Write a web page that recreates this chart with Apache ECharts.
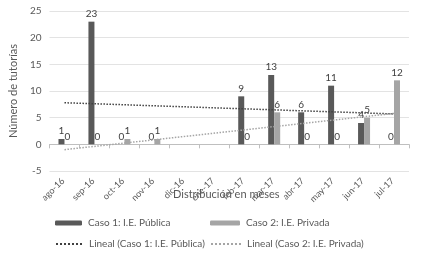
<!DOCTYPE html>
<html>
<head>
<meta charset="utf-8">
<script src="https://cdn.jsdelivr.net/npm/echarts@6/dist/echarts.min.js"></script>
<style>html,body{margin:0;padding:0;background:#fff;}#c{width:426px;height:258px;}</style>
</head>
<body>
<div id="c"></div>
<script>
const categories = ['ago-16','sep-16','oct-16','nov-16','dic-16','ene-17','feb-17','mar-17','abr-17','may-17','jun-17','jul-17'];
const publica = [1, 23, 0, 0, null, null, 9, 13, 6, 11, 4, 0];
const privada = [0, 0, 1, 1, null, null, 0, 6, 0, 0, 5, 12];
const trendPublica = [7.8, null, null, null, null, null, null, null, null, null, null, 5.7];
const trendPrivada = [-1.0, null, null, null, null, null, null, null, null, null, null, 5.8];
const yTicks = {min: -5, max: 25, interval: 5};
const names = ['Caso 1: I.E. Pública', 'Caso 2: I.E. Privada', 'Lineal (Caso 1: I.E. Pública)', 'Lineal (Caso 2: I.E. Privada)'];

const FONT = 'Lato';
const chart = echarts.init(document.getElementById('c'), null, {renderer: 'canvas'});
const legendBase = {
  orient: 'horizontal', itemGap: 0, padding: 0,
  textStyle: {fontFamily: FONT, fontSize: 10, color: '#595959', padding: [0, 0, 0, 1]}
};
const noSym = {color: 'transparent', borderWidth: 0, borderColor: 'transparent'};
chart.setOption({
  animation: false,
  backgroundColor: '#fff',
  textStyle: {fontFamily: FONT},
  grid: {left: 43, right: 17, top: 11, bottom: 87, containLabel: false},
  title: {
    text: 'Distribución en meses', left: 173, top: 189,
    textStyle: {fontFamily: FONT, fontSize: 11, fontWeight: 'normal', color: '#595959'}, padding: 0
  },
  legend: [
    Object.assign({}, legendBase, {data: [names[0]], left: 55, top: 218, itemWidth: 27, itemHeight: 5}),
    Object.assign({}, legendBase, {data: [names[1]], left: 210, top: 218, itemWidth: 30, itemHeight: 5}),
    Object.assign({}, legendBase, {data: [{name: names[2], itemStyle: noSym}], left: 55, top: 239, itemWidth: 27, itemHeight: 5}),
    Object.assign({}, legendBase, {data: [{name: names[3], itemStyle: noSym}], left: 210, top: 239, itemWidth: 30, itemHeight: 5})
  ],
  xAxis: {
    type: 'category',
    data: categories,
    axisLine: {onZero: true, lineStyle: {color: '#bfbfbf', width: 1}},
    axisTick: {show: true, length: 4, lineStyle: {color: '#bfbfbf'}},
    axisLabel: {rotate: 45, fontFamily: FONT, fontSize: 9, color: '#595959', margin: 7, padding: [0, 2, 0, 0], interval: 0}
  },
  yAxis: {
    type: 'value',
    min: yTicks.min, max: yTicks.max, interval: yTicks.interval,
    name: 'Número de tutorías',
    nameLocation: 'middle',
    nameGap: 26,
    nameTextStyle: {fontFamily: FONT, fontSize: 11, color: '#595959'},
    axisLine: {show: false},
    axisTick: {show: false},
    axisLabel: {fontFamily: FONT, fontSize: 10, color: '#595959', margin: 8},
    splitLine: {lineStyle: {color: '#e3e3e3', width: 1}}
  },
  series: [
    {
      name: names[0], type: 'bar', data: publica, barWidth: 6, barGap: '0%',
      itemStyle: {color: '#595959'},
      label: {show: true, position: 'top', distance: 3, fontFamily: FONT, fontSize: 10, color: '#404040'}
    },
    {
      name: names[1], type: 'bar', data: privada, barWidth: 6, barGap: '0%',
      itemStyle: {color: '#a5a5a5'},
      label: {show: true, position: 'top', distance: 3, fontFamily: FONT, fontSize: 10, color: '#404040'}
    },
    {
      name: names[2], type: 'line', data: trendPublica, connectNulls: true, symbol: 'none',
      lineStyle: {color: '#404040', width: 1.5, type: 'dotted'}, itemStyle: {color: '#404040'}, z: 5
    },
    {
      name: names[3], type: 'line', data: trendPrivada, connectNulls: true, symbol: 'none',
      lineStyle: {color: '#a5a5a5', width: 1.5, type: 'dotted'}, itemStyle: {color: '#a5a5a5'}, z: 5
    }
  ]
});
</script>
</body>
</html>
